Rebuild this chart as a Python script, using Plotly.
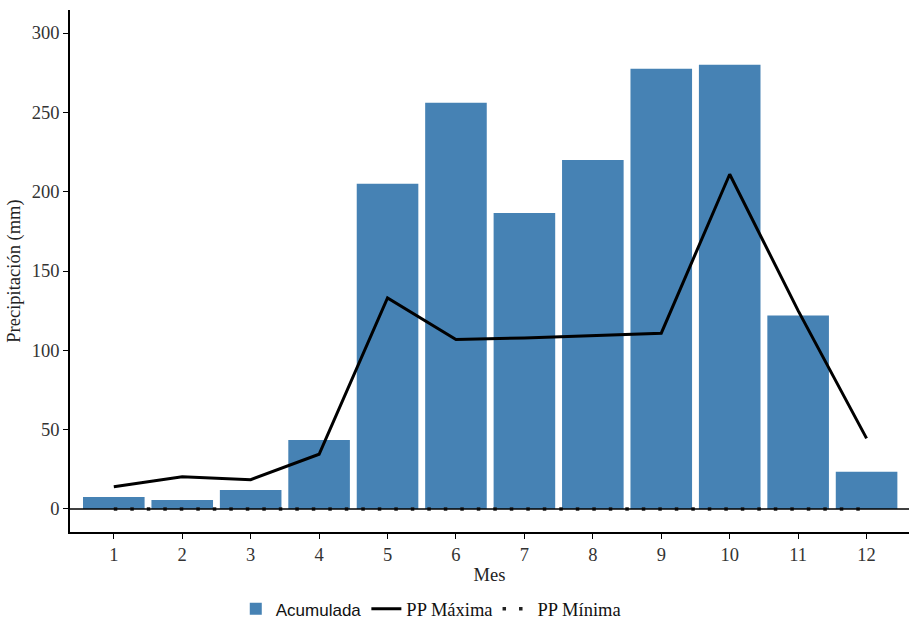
import plotly.graph_objects as go

meses = [1, 2, 3, 4, 5, 6, 7, 8, 9, 10, 11, 12]
acumulada = [7.5, 5.7, 12.0, 43.5, 205.0, 256.0, 186.5, 220.0, 277.5, 280.0, 122.0, 23.5]
pp_maxima = [14.0, 20.3, 18.5, 34.5, 133.0, 106.8, 107.8, 109.5, 110.8, 211.0, 125.0, 44.5]
pp_minima = [0, 0, 0, 0, 0, 0, 0, 0, 0, 0, 0, 0]

serif = "Liberation Serif, Times New Roman, serif"
fs = 18.5

fig = go.Figure()
fig.add_trace(go.Bar(
    x=meses, y=acumulada, width=0.9,
    marker=dict(color="#4682B4", line=dict(width=0)),
    name="<span style='font-family:Liberation Sans, Arial, sans-serif;font-size:17px'>Acumulada</span>",
))
fig.add_trace(go.Scatter(
    x=meses, y=pp_maxima, mode="lines",
    line=dict(color="black", width=3),
    name="PP Máxima",
))
fig.add_trace(go.Scatter(
    x=meses, y=pp_minima, mode="lines",
    line=dict(color="#222222", width=3.5, dash="3.5px,13px"),
    name="PP Mínima",
))

fig.add_shape(type="line", xref="paper", yref="y", x0=0, x1=1, y0=0, y1=0,
              line=dict(color="black", width=1.5), layer="above")

fig.update_layout(
    width=909, height=630,
    margin=dict(l=70, r=0, t=10, b=98),
    plot_bgcolor="white", paper_bgcolor="white",
    font=dict(family=serif, size=fs, color="#222222"),
    bargap=0.1,
    showlegend=True,
    legend=dict(orientation="h", x=0.43, xanchor="center", y=-0.148, yanchor="middle",
                font=dict(family=serif, size=fs, color="#111111"),
                traceorder="normal", itemwidth=30, tracegroupgap=0,
                borderwidth=0),
    xaxis=dict(
        range=[0.36, 12.62], tickmode="array", tickvals=meses,
        ticktext=[str(m) for m in meses],
        showline=True, linecolor="black", linewidth=1.5,
        ticks="outside", ticklen=5, tickcolor="black", tickwidth=1.2,
        showgrid=False, zeroline=False,
        title=dict(text="Mes", standoff=4, font=dict(size=fs)),
        tickfont=dict(size=fs, color="#333333"),
    ),
    yaxis=dict(
        range=[-14.5, 314.5], tickvals=[0, 50, 100, 150, 200, 250, 300],
        showline=True, linecolor="black", linewidth=1.5,
        ticks="outside", ticklen=5, tickcolor="black", tickwidth=1.2,
        showgrid=False, zeroline=False,
        title=dict(text="Precipitación (mm)", standoff=6, font=dict(size=fs)),
        tickfont=dict(size=fs, color="#333333"),
    ),
)

fig.write_html("out.html")
